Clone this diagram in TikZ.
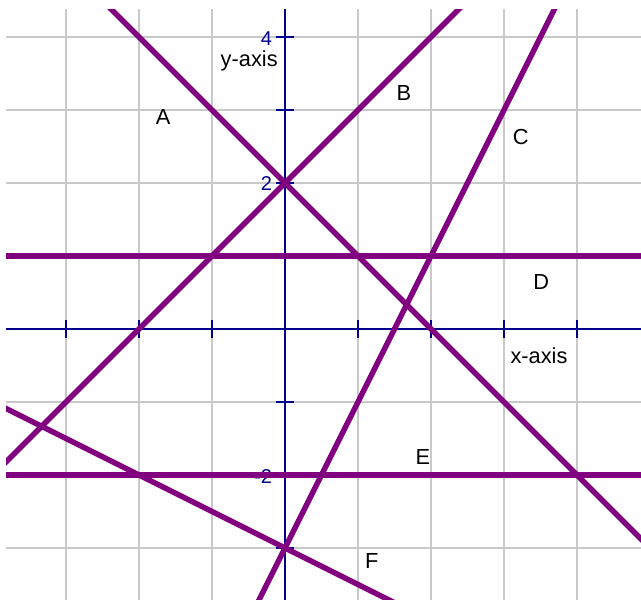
\documentclass[tikz,border=0pt]{standalone}
\usepackage{fontspec}
\setmainfont{Liberation Sans}
\definecolor{axisblue}{RGB}{0,0,140}
\definecolor{plotpurple}{RGB}{128,0,128}
\begin{document}
\begin{tikzpicture}[line join=round, line cap=round,
  gridline/.style={draw=gray!42, line width=0.8pt, line cap=butt},
  axisline/.style={draw=axisblue, line width=0.75pt, line cap=butt},
  graphline/.style={draw=plotpurple, line width=2.1pt, smooth},
  lbl/.style={font=\fontsize{8.5}{10}\selectfont},
  ticklbl/.style={text=axisblue, font=\fontsize{7.8}{9}\selectfont, inner sep=0pt, anchor=east}]
\def\xmin{-3.82} \def\xmax{4.88}
\def\ymin{-3.72} \def\ymax{4.38}
\useasboundingbox (-3.904,-3.712) rectangle (4.877,4.507);
\clip (\xmin,\ymin) rectangle (\xmax,\ymax);
% grid
\foreach \i in {-3,...,4} \draw[gridline] (\i,\ymin)--(\i,\ymax);
\foreach \j in {-3,...,4} \draw[gridline] (\xmin,\j)--(\xmax,\j);
% axes and ticks
\draw[axisline] (\xmin,0)--(\xmax,0);
\draw[axisline] (0,\ymin)--(0,\ymax);
\foreach \i in {-3,-2,-1,1,2,3,4} \draw[axisline] (\i,-0.12)--(\i,0.12);
\foreach \j in {-3,-2,-1,1,2,3,4} \draw[axisline] (-0.12,\j)--(0.12,\j);
\node[ticklbl] (tk4) at (-0.17,3.98) {4};
\node[ticklbl] (tk2) at (-0.17,1.99) {2};
\node[ticklbl] (tkm2) at (-0.17,-2.015) {-2};
\node[lbl] (ylab) at (-0.49,3.67) {y-axis};
\node[lbl] (xlab) at (3.48,-0.37) {x-axis};
% the six lines
\draw[graphline,domain=-3:5] plot(\x,{-(\x)+2});
\draw[graphline,domain=-4:3] plot(\x,{(\x)+2});
\draw[graphline,domain=-0.5:4] plot(\x,{2*(\x)-3});
\draw[graphline] (\xmin,1)--(\xmax,1);
\draw[graphline] (\xmin,-2)--(\xmax,-2);
\draw[graphline,domain=-4:2] plot(\x,{-0.5*(\x)-3});
\node[lbl] (labA) at (-1.67,2.90) {A};
\node[lbl] (labB) at (1.63,3.23) {B};
\node[lbl] (labC) at (3.23,2.63) {C};
\node[lbl] (labD) at (3.51,0.64) {D};
\node[lbl] (labE) at (1.89,-1.75) {E};
\node[lbl] (labF) at (1.19,-3.18) {F};
\end{tikzpicture}
\end{document}
